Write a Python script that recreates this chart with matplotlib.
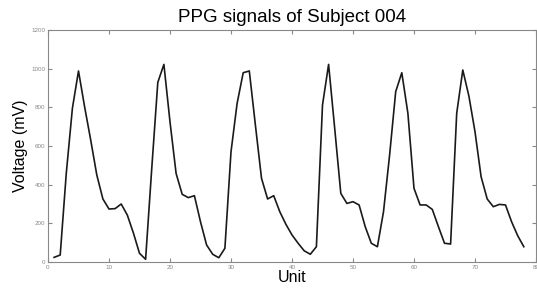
import matplotlib
matplotlib.use("Agg")
import matplotlib.pyplot as plt

plt.rcParams['font.family'] = ['Liberation Sans', 'DejaVu Sans']

units = list(range(1, 79))
voltage = [24, 36, 460, 795, 988, 803, 631, 450, 326, 274,
           276, 300, 243, 150, 45, 14, 480, 929, 1022, 725,
           458, 350, 333, 343, 208, 88, 40, 22, 71, 570,
           820, 979, 988, 708, 433, 326, 343, 260, 195, 140,
           97, 58, 40, 79, 812, 1022, 691, 355, 303, 312,
           295, 183, 97, 79, 260, 553, 881, 979, 769, 381,
           295, 295, 272, 183, 97, 93, 769, 993, 858, 674,
           441, 326, 286, 298, 295, 208, 136, 79]

xticks = [0, 10, 20, 30, 40, 50, 60, 70, 80]
yticks = [0, 200, 400, 600, 800, 1000, 1200]

fig = plt.figure(figsize=(5.37, 2.90), dpi=100)
ax = fig.add_axes([48/537, 28/290, 488/537, 232/290])
ax.plot(units, voltage, color='#1a1a1a', linewidth=1.2)
ax.set_xlim(0, 80)
ax.set_ylim(0, 1200)
ax.set_xticks(xticks)
ax.set_yticks(yticks)
ax.tick_params(direction='in', length=3, width=0.8, colors='#888888',
               labelsize=4.5, top=True, right=True, pad=2)
for s in ax.spines.values():
    s.set_color('#888888')
    s.set_linewidth(0.8)
ax.set_title('PPG signals of Subject 004', fontsize=13.5, pad=6)
ax.set_xlabel('Unit', fontsize=11.5, labelpad=0)
ax.set_ylabel('Voltage (mV)', fontsize=11.5, labelpad=2)
fig.savefig('out.png', dpi=100)
